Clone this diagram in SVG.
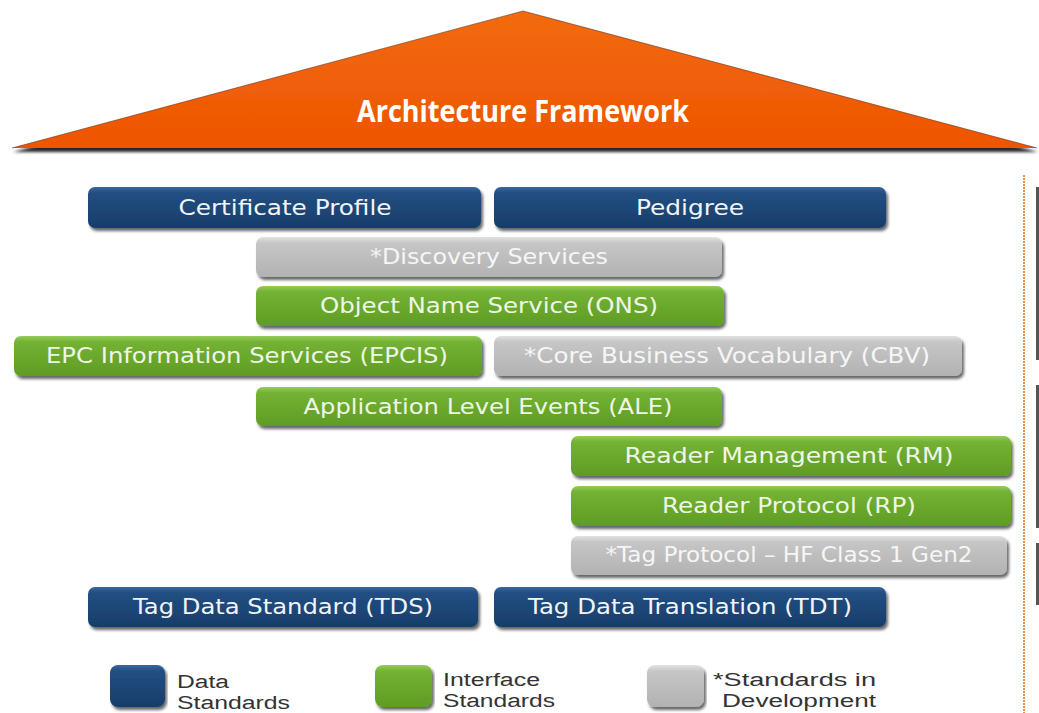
<svg xmlns="http://www.w3.org/2000/svg" width="1039" height="713" viewBox="0 0 1039 713">
<style>
.lbl{font-family:"DejaVu Sans","Open Sans",sans-serif;font-size:21px;text-anchor:middle;}
.tb{fill:#F2F4F8;}
.tg{fill:#EEF6E6;}
.tr{fill:#F6F6F6;}
.leg{font-family:"Liberation Sans","Open Sans",sans-serif;font-size:18px;fill:#333333;}
.blue{fill:url(#gBlue);filter:url(#sh);}
.green{fill:url(#gGreen);filter:url(#sh);}
.gray{fill:url(#gGray);filter:url(#sh);}
</style>
<defs>
<linearGradient id="gBlue" x1="0" y1="0" x2="0" y2="1">
<stop offset="0" stop-color="#3A679E"/><stop offset="0.15" stop-color="#224E82"/><stop offset="1" stop-color="#173D6A"/>
</linearGradient>
<linearGradient id="gGreen" x1="0" y1="0" x2="0" y2="1">
<stop offset="0" stop-color="#94CC5A"/><stop offset="0.15" stop-color="#73B233"/><stop offset="1" stop-color="#5F9C24"/>
</linearGradient>
<linearGradient id="gGray" x1="0" y1="0" x2="0" y2="1">
<stop offset="0" stop-color="#E2E2E2"/><stop offset="0.15" stop-color="#C6C6C6"/><stop offset="1" stop-color="#B2B2B2"/>
</linearGradient>
<linearGradient id="gRoof" x1="0" y1="0" x2="0" y2="1">
<stop offset="0" stop-color="#F26A12"/><stop offset="1" stop-color="#EE5500"/>
</linearGradient>
<filter id="sh" x="-5%" y="-20%" width="110%" height="150%">
<feDropShadow dx="2" dy="3" stdDeviation="1.5" flood-color="#000" flood-opacity="0.6"/>
</filter>
<filter id="roofsh" x="-5%" y="-10%" width="110%" height="130%">
<feDropShadow dx="1" dy="4" stdDeviation="1.5" flood-color="#000" flood-opacity="0.85"/>
</filter>
</defs>
<rect width="1039" height="713" fill="#FFFFFF"/>

<g id="roof">
<polygon points="12,148 523,11 1037,148" fill="url(#gRoof)" filter="url(#roofsh)"/>
<polyline points="12,148 523,11 1037,148" fill="none" stroke="#5A2A10" stroke-width="1" stroke-opacity="0.55"/>
<text x="523" y="122" font-family="'Open Sans','DejaVu Sans',sans-serif" font-weight="bold" font-size="30" fill="#FFFFFF" text-anchor="middle" textLength="332" lengthAdjust="spacingAndGlyphs">Architecture Framework</text>
</g>

<g id="certificate-profile"><rect class="blue" x="88" y="187" width="393" height="41" rx="7"/><text class="lbl tb" x="285" y="215" textLength="213" lengthAdjust="spacingAndGlyphs">Certificate Profile</text></g>
<g id="pedigree"><rect class="blue" x="494" y="187" width="392" height="41" rx="7"/><text class="lbl tb" x="690" y="215" textLength="108" lengthAdjust="spacingAndGlyphs">Pedigree</text></g>
<g id="discovery-services"><rect class="gray" x="256" y="237" width="466" height="40" rx="7"/><text class="lbl tr" x="489" y="264" textLength="238" lengthAdjust="spacingAndGlyphs">*Discovery Services</text></g>
<g id="ons"><rect class="green" x="256" y="286" width="468" height="40" rx="7"/><text class="lbl tg" x="489" y="313" textLength="338" lengthAdjust="spacingAndGlyphs">Object Name Service (ONS)</text></g>
<g id="epcis"><rect class="green" x="14" y="336" width="468" height="40" rx="7"/><text class="lbl tg" x="247" y="363" textLength="402" lengthAdjust="spacingAndGlyphs">EPC Information Services (EPCIS)</text></g>
<g id="cbv"><rect class="gray" x="494" y="336" width="468" height="40" rx="7"/><text class="lbl tr" x="727" y="363" textLength="406" lengthAdjust="spacingAndGlyphs">*Core Business Vocabulary (CBV)</text></g>
<g id="ale"><rect class="green" x="256" y="387" width="466" height="39" rx="7"/><text class="lbl tg" x="488" y="414" textLength="369" lengthAdjust="spacingAndGlyphs">Application Level Events (ALE)</text></g>
<g id="rm"><rect class="green" x="571" y="436" width="440" height="40" rx="7"/><text class="lbl tg" x="789" y="463" textLength="329" lengthAdjust="spacingAndGlyphs">Reader Management (RM)</text></g>
<g id="rp"><rect class="green" x="571" y="486" width="440" height="40" rx="7"/><text class="lbl tg" x="789" y="513" textLength="254" lengthAdjust="spacingAndGlyphs">Reader Protocol (RP)</text></g>
<g id="tag-protocol"><rect class="gray" x="571" y="536" width="436" height="39" rx="7"/><text class="lbl tr" x="789" y="562" textLength="367" lengthAdjust="spacingAndGlyphs">*Tag Protocol – HF Class 1 Gen2</text></g>
<g id="tds"><rect class="blue" x="88" y="587" width="390" height="40" rx="7"/><text class="lbl tb" x="283" y="614" textLength="300" lengthAdjust="spacingAndGlyphs">Tag Data Standard (TDS)</text></g>
<g id="tdt"><rect class="blue" x="494" y="587" width="392" height="40" rx="7"/><text class="lbl tb" x="690" y="614" textLength="324" lengthAdjust="spacingAndGlyphs">Tag Data Translation (TDT)</text></g>

<g id="legend">
<g id="legend-data"><rect class="blue" x="110" y="665" width="55" height="42" rx="8"/><text class="leg" x="177" y="688" textLength="52" lengthAdjust="spacingAndGlyphs">Data</text><text class="leg" x="177" y="709" textLength="113" lengthAdjust="spacingAndGlyphs">Standards</text></g>
<g id="legend-interface"><rect class="green" x="375" y="665" width="57" height="42" rx="8"/><text class="leg" x="443" y="686" textLength="97" lengthAdjust="spacingAndGlyphs">Interface</text><text class="leg" x="443" y="707" textLength="112" lengthAdjust="spacingAndGlyphs">Standards</text></g>
<g id="legend-dev"><rect class="gray" x="647" y="665" width="57" height="42" rx="8"/><text class="leg" x="713" y="686" textLength="163" lengthAdjust="spacingAndGlyphs">*Standards  in</text><text class="leg" x="722" y="707" textLength="154" lengthAdjust="spacingAndGlyphs">Development</text></g>
</g>

<g id="connectors">
<line x1="1024" y1="175" x2="1024" y2="713" stroke="#E8904A" stroke-width="2" stroke-dasharray="2,1"/>
<line x1="1037.5" y1="187" x2="1037.5" y2="360" stroke="#555555" stroke-width="3"/>
<line x1="1037.5" y1="385" x2="1037.5" y2="528" stroke="#555555" stroke-width="3"/>
<line x1="1037.5" y1="543" x2="1037.5" y2="605" stroke="#555555" stroke-width="3"/>
</g>
</svg>
